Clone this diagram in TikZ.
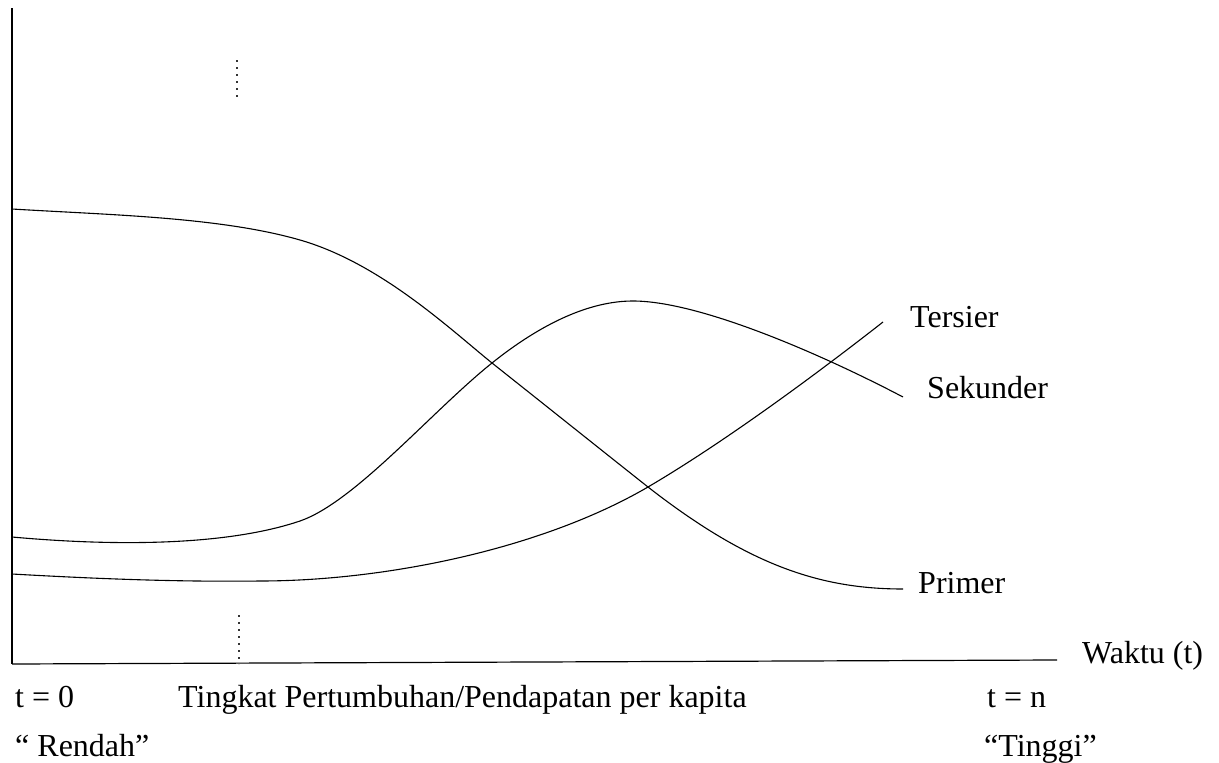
\documentclass[tikz,border=0pt]{standalone}
\usepackage{fontspec}
\setmainfont{Liberation Serif}
\begin{document}
\begin{tikzpicture}[x=1pt,y=-1pt,
  axisline/.style={line width=1.2pt, black},
  curve/.style={line width=1.1pt, black, line join=round},
  guide/.style={line width=1.1pt, black!80, dash pattern=on 2pt off 5pt},
  lbl/.style={inner sep=0pt, anchor=base west, font=\fontsize{32}{38}\selectfont}]
\useasboundingbox (0,0) rectangle (1219,763);

% axes
\coordinate (origin) at (12,664);
\coordinate (ytop) at (12,8);
\coordinate (xend) at (1057,660);
\draw[axisline, line width=1.6pt] (ytop) -- (origin);
\draw[axisline] (origin) -- (xend);

% marker line at the low-income stage
\coordinate (g1) at (237,60);
\coordinate (g2) at (237,100);
\coordinate (g3) at (239,615);
\coordinate (g4) at (239,664);
\draw[guide] (g1) -- (g2);
\draw[guide] (g3) -- (g4);

% primary sector
\draw[curve] (12,209) .. controls (110,215) and (220,217) .. (300,240)
  .. controls (380,263) and (450,329) .. (492,363)
  .. controls (550,409) and (600,449) .. (648,487)
  .. controls (748,565) and (820,589) .. (903,589);
% secondary sector
\draw[curve] (12,537) .. controls (100,545) and (220,548) .. (300,521)
  .. controls (355,502) and (432,411) .. (492,363)
  .. controls (542,323) and (590,301) .. (633,301)
  .. controls (700,301) and (823,355) .. (903,397);
% tertiary sector
\draw[curve] (12,574) .. controls (100,579) and (180,582) .. (260,581)
  .. controls (380,581) and (538,551) .. (648,487)
  .. controls (728,440) and (823,369) .. (883,322);

% curve labels
\node[lbl] (tersier) at (910,327) {Tersier};
\node[lbl] (sekunder) at (927,398) {Sekunder};
\node[lbl] (primer) at (918,593) {Primer};
\node[lbl] (waktu) at (1082,663) {Waktu (t)};

% axis captions
\node[lbl] (t0) at (15,707) {t = 0};
\node[lbl] (rendah) at (15,756) {“ Rendah”};
\node[lbl] (tingkat) at (178,707) {Tingkat Pertumbuhan/Pendapatan per kapita};
\node[lbl] (tn) at (987,707) {t = n};
\node[lbl] (tinggi) at (984,756) {“Tinggi”};
\end{tikzpicture}
\end{document}
